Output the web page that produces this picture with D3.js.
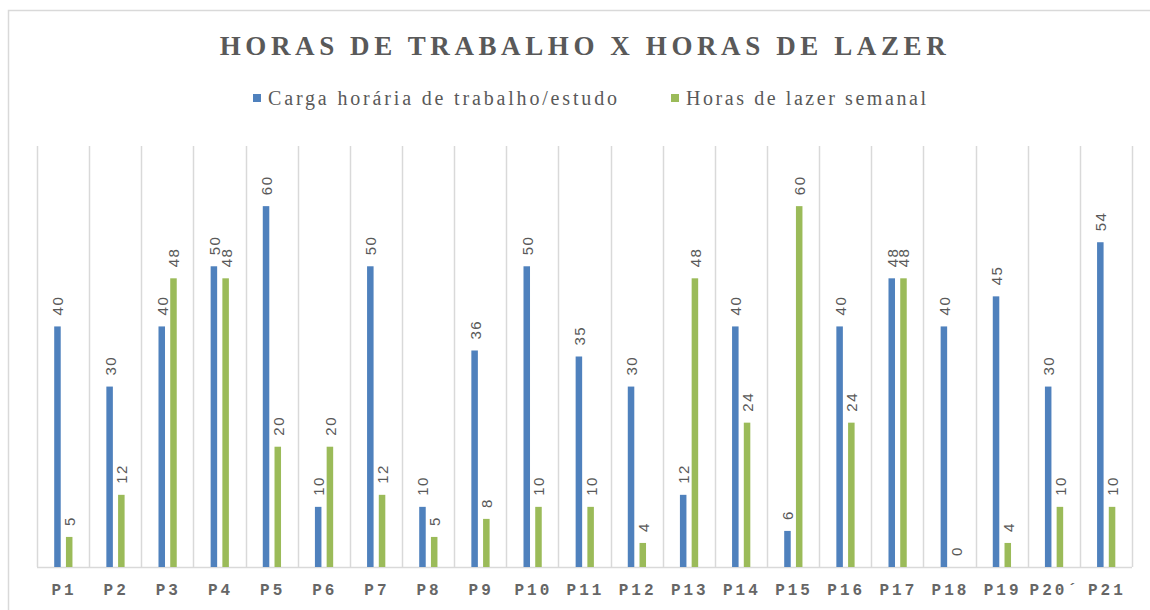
<!DOCTYPE html>
<html>
<head>
<meta charset="utf-8">
<script src="https://cdn.jsdelivr.net/npm/d3@7"></script>
<style>
  body { margin: 0; background: #fff; }
</style>
</head>
<body>
<div id="chart"></div>
<script>
// categories and series
const categories = ["P1", "P2", "P3", "P4", "P5", "P6", "P7", "P8", "P9", "P10", "P11",
  "P12", "P13", "P14", "P15", "P16", "P17", "P18", "P19", "P20´", "P21"];
const trabalho = [40, 30, 40, 50, 60, 10, 50, 10, 36, 50, 35, 30, 12, 40, 6, 40, 48, 40, 45, 30, 54];
const lazer = [5, 12, 48, 48, 20, 20, 12, 5, 8, 10, 10, 4, 48, 24, 60, 24, 48, 0, 4, 10, 10];
const seriesNames = ["Carga horária de trabalho/estudo", "Horas de lazer semanal"];
const seriesColors = ["#4f81bd", "#9bbb59"];

let drawChart = (locationId) => {
  const W = 1150, H = 610;
  const margin = { top: 146, left: 37, right: 18, bottom: 43 };

  const svg = d3.select(locationId)
    .append("svg")
    .attr("width", W)
    .attr("height", H);

  // outer chart border (cut off on right/bottom like the screenshot)
  svg.append("rect")
    .attr("x", 8.5).attr("y", 10.5)
    .attr("width", W + 10).attr("height", H + 10)
    .attr("fill", "none")
    .attr("stroke", "#d9d9d9")
    .attr("stroke-width", 1.5);

  const xScale = d3.scaleBand()
    .domain(categories)
    .range([margin.left, W - margin.right]);

  const yScale = d3.scaleLinear()
    .domain([0, 70])
    .range([H - margin.bottom, margin.top]);

  const bw = xScale.bandwidth();
  const barW = bw * 0.125;
  const offsets = [bw * 0.33, bw * 0.555]; // left edge of each series inside a band

  // vertical category gridlines
  const edges = categories.map(c => xScale(c)).concat([xScale.range()[1]]);
  svg.append("g")
    .selectAll("line")
    .data(edges)
    .join("line")
    .attr("x1", d => Math.round(d) + 0.5)
    .attr("x2", d => Math.round(d) + 0.5)
    .attr("y1", yScale(70))
    .attr("y2", yScale(0))
    .attr("stroke", "#d9d9d9")
    .attr("stroke-width", 1.5);

  // baseline
  svg.append("line")
    .attr("x1", xScale.range()[0])
    .attr("x2", xScale.range()[1])
    .attr("y1", yScale(0) + 0.5)
    .attr("y2", yScale(0) + 0.5)
    .attr("stroke", "#d9d9d9")
    .attr("stroke-width", 1.5);

  const series = [trabalho, lazer];
  series.forEach((vals, si) => {
    const g = svg.append("g");
    const rows = categories.map((c, i) => ({ c, v: vals[i] }));

    g.selectAll("rect")
      .data(rows)
      .join("rect")
      .attr("x", d => xScale(d.c) + offsets[si])
      .attr("y", d => yScale(d.v))
      .attr("width", barW)
      .attr("height", d => yScale(0) - yScale(d.v))
      .attr("fill", seriesColors[si]);

    // rotated value labels above the bars
    g.selectAll("text")
      .data(rows)
      .join("text")
      .attr("transform", d => {
        const cx = xScale(d.c) + offsets[si] + barW / 2;
        const cy = yScale(d.v) - 11;
        return `translate(${cx + 6},${cy}) rotate(-90)`;
      })
      .attr("text-anchor", "start")
      .attr("font-family", "'Liberation Sans', sans-serif")
      .attr("font-size", 15)
      .attr("letter-spacing", 1.5)
      .attr("fill", "#595959")
      .text(d => d.v);
  });

  // category labels
  svg.append("g")
    .selectAll("text")
    .data(categories)
    .join("text")
    .attr("x", d => xScale(d) + bw / 2 + 1)
    .attr("y", H - 15)
    .attr("text-anchor", "middle")
    .attr("font-family", "'Liberation Mono', monospace")
    .attr("font-weight", "bold")
    .attr("font-size", 16)
    .attr("letter-spacing", 3)
    .attr("fill", "#666666")
    .text(d => d);

  // title
  svg.append("text")
    .attr("x", 585)
    .attr("y", 55)
    .attr("text-anchor", "middle")
    .attr("font-family", "'Liberation Serif', serif")
    .attr("font-weight", "bold")
    .attr("font-size", 27)
    .attr("letter-spacing", 4.6)
    .attr("fill", "#595959")
    .text("HORAS DE TRABALHO X HORAS DE LAZER");

  // legend
  const legendX = [253, 671];
  const legendW = [349, 240];
  seriesNames.forEach((name, i) => {
    svg.append("rect")
      .attr("x", legendX[i])
      .attr("y", 94)
      .attr("width", 8)
      .attr("height", 8)
      .attr("fill", seriesColors[i]);
    svg.append("text")
      .attr("x", legendX[i] + 15)
      .attr("y", 105)
      .attr("font-family", "'Liberation Serif', serif")
      .attr("font-size", 20)
      .attr("textLength", legendW[i])
      .attr("lengthAdjust", "spacing")
      .attr("fill", "#595959")
      .text(name);
  });
};

drawChart("#chart");
</script>
</body>
</html>
